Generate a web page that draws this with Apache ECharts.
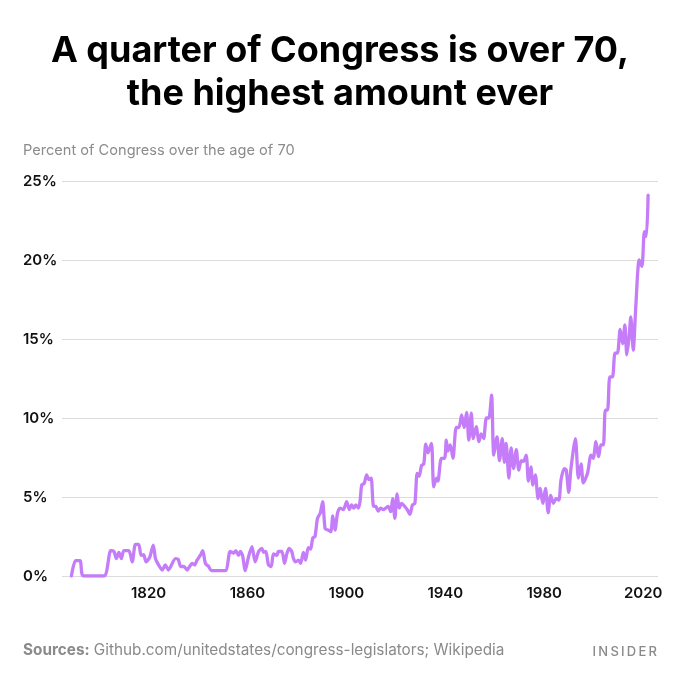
<!DOCTYPE html>
<html>
<head>
<meta charset="utf-8">
<title>A quarter of Congress is over 70</title>
<script src="https://cdn.jsdelivr.net/npm/echarts@6/dist/echarts.min.js"></script>
<style>
html, body { margin: 0; padding: 0; background: #fff; }
#chart { width: 680px; height: 680px; }
</style>
</head>
<body>
<div id="chart"></div>
<script>
// years (irregular spacing, one point per visible turn of the line)
var years = [
  1788.8, 1790.5, 1792.3, 1793.6, 1802, 1804.7, 1806, 1807, 1808, 1809, 1810, 1812,
  1813.4, 1814.7, 1816, 1817, 1818, 1819, 1820.5, 1821.9, 1822.8, 1823.7, 1825.5, 1826.8,
  1828, 1830.9, 1832, 1833, 1834.3, 1835.6, 1836.6, 1837.6, 1838.6, 1839.6, 1840.9, 1841.9,
  1843, 1844.3, 1845.4, 1851, 1853, 1854.4, 1855.3, 1856.4, 1857.1, 1858, 1859.1, 1860.4,
  1861.8, 1863.1, 1864.5, 1865.8, 1866.5, 1867.4, 1868.5, 1869.6, 1870.5, 1871.9, 1872.5, 1873.9,
  1875, 1875.9, 1876.8, 1877.9, 1878.6, 1879.5, 1880.6, 1881.5, 1882.6, 1883.5, 1884.6, 1885.5,
  1886.4, 1887.3, 1888.3, 1889.4, 1890.4, 1891.4, 1892.7, 1893.7, 1894.5, 1895.4, 1896.4, 1897.4,
  1898.8, 1900.1, 1901.2, 1902.1, 1903, 1903.8, 1904.8, 1905.5, 1906.2, 1907.2, 1908.2, 1909.1,
  1910, 1910.9, 1911.9, 1912.9, 1913.8, 1914.9, 1915.9, 1916.9, 1917.9, 1918.7, 1919.6, 1920.5,
  1921.4, 1922.3, 1923.6, 1924.6, 1925.7, 1926.7, 1927.7, 1928.6, 1929.4, 1930.4, 1931.3, 1932.1,
  1933, 1934.4, 1935.3, 1936.4, 1937, 1938.4, 1939.7, 1940.4, 1941, 1942, 1943.1, 1944.4,
  1945.5, 1946.6, 1947.6, 1948.6, 1949.5, 1950.5, 1951.3, 1952.5, 1953.6, 1954.5, 1955.5, 1956.6,
  1957.6, 1958.7, 1959.6, 1960.9, 1961.9, 1963, 1963.9, 1964.6, 1965.7, 1966.6, 1967.6, 1968.7,
  1969.7, 1970.7, 1971.6, 1972.7, 1973.6, 1974.6, 1975.4, 1976.4, 1977.5, 1978.3, 1979.4, 1980.5,
  1981.6, 1982.6, 1983.7, 1984.8, 1985.9, 1986.8, 1988.1, 1988.9, 1989.9, 1990.8, 1992.6, 1993.8,
  1994.9, 1995.8, 1997.5, 1998.9, 1999.8, 2000.9, 2002, 2002.9, 2003.9, 2004.7, 2005.6, 2006.5,
  2007.6, 2008.6, 2009.6, 2010.7, 2011.7, 2012.6, 2013.4, 2014.3, 2015, 2016, 2017, 2018.4,
  2019.5, 2020.5, 2021.3, 2022
];

// percent of Congress over the age of 70
var pctOver70 = [
  0, 0.97, 0.97, 0, 0, 1.6, 1.55, 1.1, 1.5, 1.1, 1.6, 1.6,
  0.9, 2.0, 2.0, 1.3, 1.35, 0.9, 1.2, 1.96, 1.1, 0.8, 0.38, 0.7,
  0.38, 1.1, 1.05, 0.6, 0.6, 0.38, 0.6, 0.8, 0.7, 1.0, 1.3, 1.6,
  0.8, 0.6, 0.34, 0.34, 1.55, 1.45, 1.6, 1.3, 1.55, 1.3, 0.34, 1.2,
  1.86, 0.9, 1.55, 1.75, 1.5, 1.55, 0.7, 0.6, 1.4, 1.3, 1.55, 1.55,
  0.8, 1.4, 1.75, 1.55, 1.1, 0.9, 1.0, 0.8, 1.5, 1.0, 1.8, 1.7,
  2.4, 2.5, 3.65, 3.97, 4.7, 3.0, 2.9, 2.8, 3.8, 2.9, 3.97, 4.3,
  4.2, 4.7, 4.2, 4.5, 4.3, 4.5, 4.3, 4.7, 5.76, 5.86, 6.4, 6.1,
  6.2, 4.43, 4.4, 4.1, 4.3, 4.2, 4.3, 4.4, 4.07, 4.9, 3.65, 5.2,
  4.3, 4.6, 4.4, 4.2, 3.9, 4.5, 4.6, 6.5, 6.3, 7.0, 7.1, 8.35,
  7.8, 8.4, 5.65, 6.2, 6.0, 7.45, 7.45, 8.6, 7.9, 8.3, 7.45, 9.4,
  9.4, 10.2, 9.4, 10.35, 8.6, 10.3, 8.7, 9.45, 8.5, 9.0, 8.7, 10.0,
  10.0, 11.45, 7.65, 8.8, 7.3, 8.7, 7.2, 8.4, 6.2, 8.1, 6.8, 8.0,
  6.7, 7.3, 7.25, 7.65, 6.0, 6.9, 5.75, 6.4, 4.9, 5.55, 4.6, 5.55,
  4.0, 5.1, 4.6, 4.9, 4.8, 6.1, 6.8, 6.7, 5.3, 6.8, 8.7, 6.2,
  7.1, 5.9, 6.5, 7.65, 7.45, 8.5, 7.55, 8.3, 8.3, 10.5, 10.5, 12.6,
  12.6, 14.1, 14.1, 15.6, 14.7, 15.9, 14.0, 15.1, 16.4, 14.3, 17.0, 20.0,
  19.6, 21.8, 21.5, 24.1
];

var yTicks = [0, 5, 10, 15, 20, 25];

var FONT = 'Inter, "Noto Sans", sans-serif';

var lineData = years.map(function (y, i) {
  return [y, pctOver70[i]];
});

var myChart = echarts.init(document.getElementById('chart'));

var option = {
  backgroundColor: '#fff',
  animation: false,
  title: {
    text: 'A quarter of Congress is over 70,\nthe highest amount ever',
    left: 'center',
    top: 25,
    textStyle: {
      fontFamily: FONT,
      fontSize: 36,
      fontWeight: 'bold',
      color: '#000',
      lineHeight: 43
    }
  },
  grid: {
    left: 62,
    right: 22,
    top: 181,
    bottom: 104
  },
  xAxis: {
    type: 'value',
    min: 1785,
    max: 2026,
    interval: 5,
    axisLine: { show: false },
    axisTick: { show: false },
    splitLine: { show: false },
    axisLabel: {
      margin: 10,
      fontFamily: FONT,
      fontSize: 15,
      fontWeight: 600,
      color: '#111',
      formatter: function (v) {
        return (v % 40 === 20) ? String(v) : '';
      }
    }
  },
  yAxis: {
    type: 'value',
    min: yTicks[0],
    max: yTicks[yTicks.length - 1],
    interval: 5,
    axisLine: { show: false },
    axisTick: { show: false },
    splitLine: { lineStyle: { color: '#dcdcdc', width: 1 } },
    axisLabel: {
      align: 'left',
      margin: 39,
      fontFamily: FONT,
      fontSize: 15,
      fontWeight: 600,
      color: '#111',
      formatter: '{value}%'
    }
  },
  graphic: [
    {
      type: 'text',
      left: 23,
      top: 143,
      style: {
        text: 'Percent of Congress over the age of 70',
        fontFamily: FONT,
        fontSize: 14.6,
        fill: '#8c8c8c'
      }
    },
    {
      type: 'text',
      left: 23,
      top: 643,
      style: {
        text: '{b|Sources:} Github.com/unitedstates/congress-legislators; Wikipedia',
        fontFamily: FONT,
        fontSize: 15.3,
        fill: '#8a8a8a',
        rich: {
          b: { fontFamily: FONT, fontSize: 15.3, fontWeight: 'bold', fill: '#8a8a8a' }
        }
      }
    },
    {
      type: 'text',
      right: 23,
      top: 646,
      style: {
        text: 'I\u2009N\u2009S\u2009I\u2009D\u2009E\u2009R',
        fontFamily: FONT,
        fontSize: 13,
        fontWeight: 500,
        fill: '#8a8a8a'
      }
    }
  ],
  series: [
    {
      type: 'line',
      data: lineData,
      smooth: 0.25,
      symbol: 'none',
      lineStyle: {
        color: '#c57cf8',
        width: 3.3,
        join: 'round',
        cap: 'round'
      }
    }
  ]
};

myChart.setOption(option);
</script>
</body>
</html>
